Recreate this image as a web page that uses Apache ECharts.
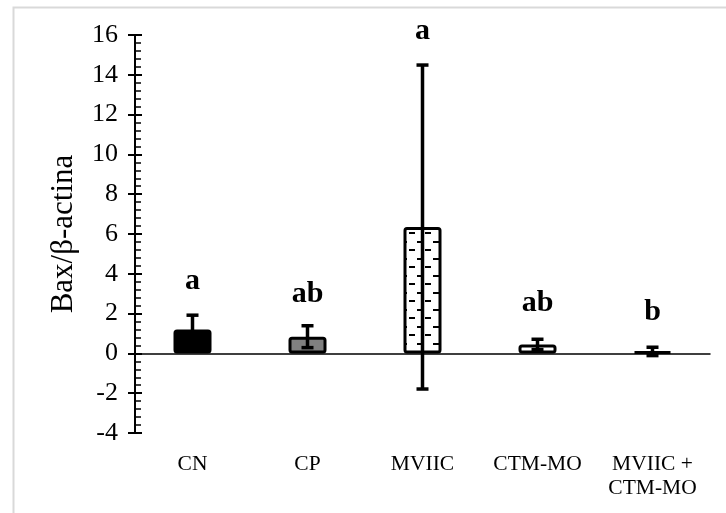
<!DOCTYPE html>
<html>
<head>
<meta charset="utf-8">
<script src="https://cdn.jsdelivr.net/npm/echarts@6/dist/echarts.min.js"></script>
<style>
html,body{margin:0;padding:0;background:#fff;}
#chart{width:726px;height:513px;}
</style>
</head>
<body>
<div id="chart"></div>
<script>
// ---- data ----
const categories = ['CN', 'CP', 'MVIIC', 'CTM-MO', 'MVIIC +\nCTM-MO'];
const means = [1.2, 0.84, 6.35, 0.45, 0.1];
const errors = [0.72, 0.55, 8.14, 0.26, 0.21];
const letters = ['a', 'ab', 'a', 'ab', 'b'];
const letterY = [3.65, 2.96, 16.18, 2.5, 2.05];
const yTicks = { min: -4, max: 16, interval: 2 };

// ---- patterns ----
function dashPattern() {
  const c = document.createElement('canvas');
  c.width = 16; c.height = 17;
  const g = c.getContext('2d');
  g.fillStyle = '#fff'; g.fillRect(0, 0, 16, 17);
  g.fillStyle = '#000';
  g.fillRect(1, 3, 6, 2);
  g.fillRect(9, 11, 6, 2);
  return c;
}
const pat = { image: dashPattern(), repeat: 'repeat' };
const fills = ['#000000', '#808080', pat, pat, '#000000'];

const chart = echarts.init(document.getElementById('chart'));
const serif = '"Liberation Serif", "Times New Roman", serif';

const option = {
  animation: false,
  backgroundColor: '#fff',
  graphic: [{
    type: 'rect', left: 11, top: 5,
    shape: { x: 0, y: 0, width: 740, height: 540 },
    style: { fill: 'none', stroke: '#d9d9d9', lineWidth: 2 },
    silent: true
  }],
  grid: { left: 135, right: 16, top: 35, bottom: 80, containLabel: false },
  xAxis: [{
    type: 'category', data: categories,
    axisLine: { onZero: true, lineStyle: { color: '#000', width: 1.5 } },
    axisTick: { show: false }, axisLabel: { show: false }
  }, {
    type: 'category', data: categories, position: 'bottom',
    axisLine: { show: false, onZero: false }, axisTick: { show: false },
    axisLabel: { show: true, interval: 0, margin: 19, fontFamily: serif, fontSize: 21.5, color: '#000', lineHeight: 24 }
  }],
  yAxis: [{
    type: 'value', min: yTicks.min, max: yTicks.max, interval: yTicks.interval,
    name: 'Bax/β-actina', nameLocation: 'middle', nameGap: 56,
    nameTextStyle: { fontFamily: serif, fontSize: 31, color: '#000' },
    axisLine: { show: true, lineStyle: { color: '#000', width: 2 } },
    axisTick: { show: true, inside: false, length: 7, lineStyle: { color: '#000', width: 2 } },
    axisLabel: { fontFamily: serif, fontSize: 26, color: '#000', margin: 17 },
    splitLine: { show: false }
  }, {
    type: 'value', min: yTicks.min, max: yTicks.max, interval: yTicks.interval, position: 'left',
    axisLine: { show: false },
    axisTick: { show: true, inside: true, length: 7, lineStyle: { color: '#000', width: 2 } },
    minorTick: { show: true, splitNumber: 5, length: 6, lineStyle: { color: '#000', width: 1.5 } },
    axisLabel: { show: false }, splitLine: { show: false }
  }],
  series: [{
    type: 'bar', barWidth: 38,
    data: means.map((v, i) => ({
      value: v,
      itemStyle: { color: fills[i], borderColor: '#000', borderWidth: 3, borderRadius: 2 }
    })),
    z: 2
  }, {
    type: 'custom', z: 5, clip: false,
    data: means.map((v, i) => [i, v - errors[i], v + errors[i]]),
    renderItem: function (params, api) {
      const x = api.value(0);
      const lo = api.coord([x, api.value(1)]);
      const hi = api.coord([x, api.value(2)]);
      const hw = 6;
      const st = { stroke: '#000', lineWidth: 3.5 };
      return {
        type: 'group', children: [
          { type: 'line', shape: { x1: hi[0], y1: hi[1], x2: lo[0], y2: lo[1] }, style: st },
          { type: 'line', shape: { x1: hi[0] - hw, y1: hi[1], x2: hi[0] + hw, y2: hi[1] }, style: st },
          { type: 'line', shape: { x1: lo[0] - hw, y1: lo[1], x2: lo[0] + hw, y2: lo[1] }, style: st }
        ]
      };
    }
  }, {
    type: 'custom', z: 6, clip: false,
    data: letterY.map((v, i) => [i, v]),
    renderItem: function (params, api) {
      const p = api.coord([api.value(0), api.value(1)]);
      return {
        type: 'text', x: p[0], y: p[1],
        style: {
          text: letters[params.dataIndex], align: 'center', verticalAlign: 'middle',
          font: 'bold 30px ' + serif, fill: '#000'
        }
      };
    }
  }]
};
chart.setOption(option);
</script>
</body>
</html>
